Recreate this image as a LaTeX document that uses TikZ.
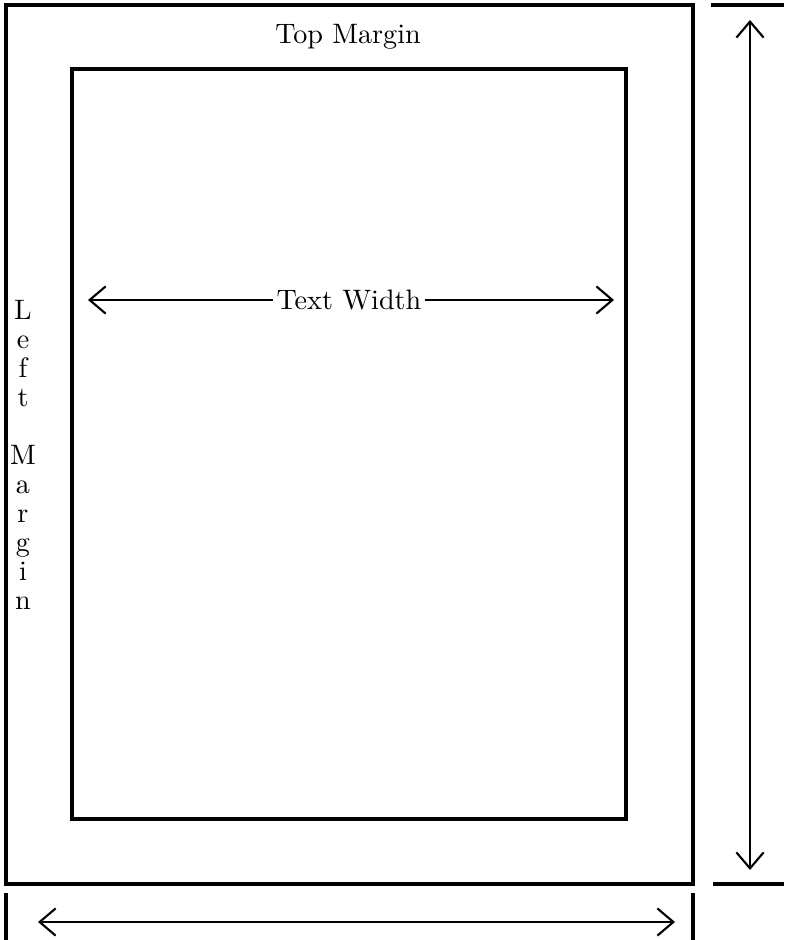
\documentclass[tikz,border=0pt]{standalone}
\usepackage{tikz}
\usetikzlibrary{positioning,arrows.meta}

\begin{document}
\begin{tikzpicture}[x=0.125mm,y=-0.125mm,font=\normalsize,
  frame/.style={line width=1.1pt},
  tick/.style={line width=1.1pt},
  dim/.style={line width=0.75pt,>={Straight Barb[length=2mm,width=3.4mm]}},
  label/.style={inner sep=1pt}]
\useasboundingbox (0,0) rectangle (784,940);
% page and text block
\draw[frame] (6,5) rectangle (693,884);
\draw[frame] (72,69) rectangle (626,819);
\node[label] (top) at (348,37) {Top Margin};
\node[inner sep=0pt,align=center,font={\fontsize{10}{10.3}\selectfont}] (left) at (23,455)
  {L\\e\\f\\t\\[10.3pt]M\\a\\r\\g\\i\\n};
% text width
\node[label] (tw) at (349,300) {Text Width};
\coordinate (twl) at (88,300);
\coordinate (twr) at (614,300);
\draw[dim,<-] (twl) -- (tw.west);
\draw[dim,->] (tw.east) -- (twr);
% paper height
\draw[tick] (711,5) -- (784,5);
\draw[tick] (713,884) -- (784,884);
\coordinate (ht) at (750,20);
\coordinate (hb) at (750,870);
\draw[dim,<->] (ht) -- (hb);
% paper width
\draw[tick] (6,893) -- (6,940);
\draw[tick] (693,893) -- (693,940);
\coordinate (wl) at (38,922);
\coordinate (wr) at (675,922);
\draw[dim,<->] (wl) -- (wr);
\end{tikzpicture}
\end{document}
